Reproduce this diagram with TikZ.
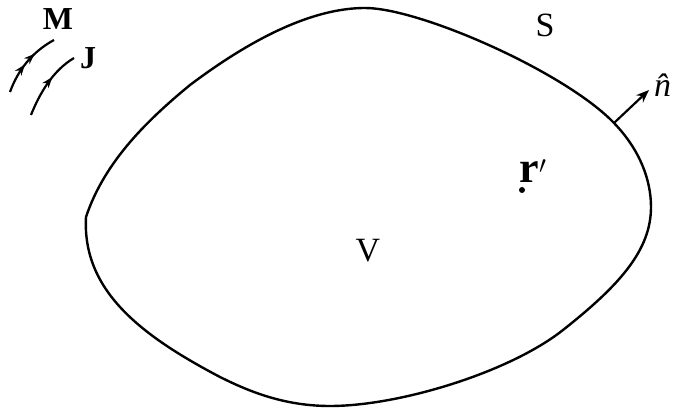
\documentclass[tikz,border=0pt]{standalone}
\usepackage{fontspec}
\setmainfont{Liberation Serif}
\usetikzlibrary{arrows.meta, decorations.markings}

\begin{document}
\begin{tikzpicture}[
        x=1pt, y=-1pt,
        surface/.style={line width=2.4pt, line join=round},
        current/.style={line width=2.2pt, postaction={decorate}},
        lbl/.style={inner sep=0pt, font=\fontsize{34}{36}\selectfont},
        srclbl/.style={inner sep=0pt, font=\fontsize{32}{34}\selectfont\bfseries},
        arrow/.style={-{Stealth[length=13pt, width=10pt]}, line width=2.2pt}
    ]
        \useasboundingbox (0,0) rectangle (673,411);

        % --- Closed surface S bounding V ---
        \coordinate (kink) at (86,217);
        \coordinate (nw) at (190,85);
        \coordinate (top) at (365,8);
        \coordinate (nbase) at (614,123);
        \coordinate (east) at (651,207);
        \coordinate (se) at (563,330);
        \coordinate (bottom) at (330,406);
        \coordinate (sw) at (220,377);
        \draw[surface] (kink) .. controls (105,160) and (150,118) .. (nw)
            .. controls (230,55) and (300,8) .. (top)
            .. controls (420,8) and (565,72) .. (nbase)
            .. controls (640,150) and (651,180) .. (east)
            .. controls (651,250) and (620,285) .. (se)
            .. controls (510,372) and (400,406) .. (bottom)
            .. controls (285,406) and (250,392) .. (sw)
            .. controls (140,335) and (82,290) .. (kink) -- cycle;

        % --- Source currents ---
        \coordinate (M0) at (10,92);
        \coordinate (M1) at (54,40);
        \coordinate (J0) at (31,115);
        \coordinate (J1) at (74,58);
        \draw[current, decoration={markings,
                mark=at position 0.45 with {\arrow{Stealth[length=11pt, width=8pt]}},
                mark=at position 0.66 with {\arrow{Stealth[length=11pt, width=8pt]}}}]
            (M0) .. controls (18,70) and (32,52) .. (M1);
        \draw[current, decoration={markings,
                mark=at position 0.6 with {\arrow{Stealth[length=11pt, width=8pt]}}}]
            (J0) .. controls (39,95) and (52,71) .. (J1);
        \node[srclbl] (Mlbl) at (58,19) {M};
        \node[srclbl] (Jlbl) at (88,58) {J};

        % --- Labels ---
        \node[lbl] (Slbl) at (545,25) {S};
        \node[lbl] (Vlbl) at (368,251) {V};
        \node[lbl, font=\fontsize{44}{46}\selectfont\bfseries] (rlbl) at (533,171) {r$'$};
        \fill (522,190) circle (3pt);

        % --- Outward normal ---
        \coordinate (ntip) at (649,90);
        \draw[arrow] (nbase) -- (ntip);
        \node[lbl, anchor=base west] (nhat) at (654,97) {\textit{\^{n}}};
\end{tikzpicture}
\end{document}
